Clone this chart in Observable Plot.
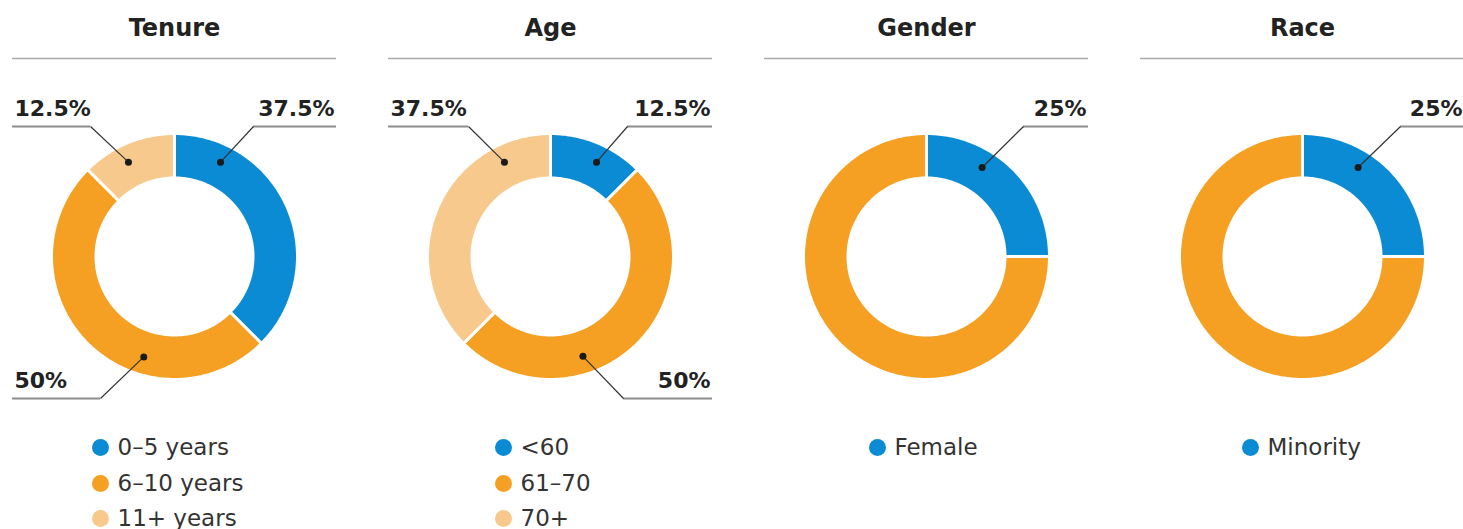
<!DOCTYPE html>
<html><head><meta charset="utf-8">
<script src="https://cdn.jsdelivr.net/npm/d3@7"></script>
<script src="https://cdn.jsdelivr.net/npm/@observablehq/plot@0.6"></script>
<style>body{margin:0;background:#fff}</style>
</head><body><div id="chart"></div>
<script>
// ---- data ----
const panelTitles = ["Tenure", "Age", "Gender", "Race"];
const tenureCategories = ["0–5 years", "6–10 years", "11+ years"];
const tenureValues = [37.5, 50, 12.5];
const ageCategories = ["<60", "61–70", "70+"];
const ageValues = [12.5, 50, 37.5];
const genderCategories = ["Female", "Male"];
const genderValues = [25, 75];
const raceCategories = ["Minority", "Non-minority"];
const raceValues = [25, 75];
const legendCounts = [3, 3, 1, 1]; // categories shown in each legend

// ---- styles / layout ----
const palette = ["#0b8bd3", "#f5a023", "#f8c98d"];
const W = 1463, H = 529;
const panelStart = [12, 388, 764, 1140];
const panelWidth = 324;
const cy = 256, rOuter = 123, rInner = 78.5;
const legendDotX = [88, 115, 113, 110];
const legendRows = [447, 483, 518];
// label placement: [panel][slice] -> {side, row, angle(deg), len}
const labelLayout = [
  [{side: "right", row: "top", angle: 26, len: 83}, {side: "left", row: "bottom", angle: 197, len: 88}, {side: "left", row: "top", angle: -26, len: 78}],
  [{side: "right", row: "top", angle: 26, len: 85}, {side: "right", row: "bottom", angle: 162, len: 89}, {side: "left", row: "top", angle: -26, len: 80}],
  [{side: "right", row: "top", angle: 32, len: 65}, null],
  [{side: "right", row: "top", angle: 32, len: 64}, null]
];

const panels = [
  {cats: tenureCategories, vals: tenureValues},
  {cats: ageCategories, vals: ageValues},
  {cats: genderCategories, vals: genderValues},
  {cats: raceCategories, vals: raceValues}
];

const pie = d3.pie().sort(null).startAngle(0).endAngle(2 * Math.PI);
const marks = [];
const titles = [], titleRules = [], underlines = [], leaders = [], dots = [], pctLabels = [], legendDots = [], legendTexts = [];

panels.forEach((p, pi) => {
  const x0 = panelStart[pi];
  const cx = x0 + panelWidth / 2;
  titles.push({x: cx, y: 28, text: panelTitles[pi]});
  titleRules.push({x1: x0, x2: x0 + panelWidth, y: 58});
  const arcs = pie(p.vals);
  arcs.forEach((a, si) => {
    const pts = [];
    const n = Math.max(2, Math.ceil((a.endAngle - a.startAngle) / (Math.PI / 180)));
    for (let k = 0; k <= n; k++) {
      const t = a.startAngle + (a.endAngle - a.startAngle) * k / n;
      pts.push({x: cx + rOuter * Math.sin(t), y: cy - rOuter * Math.cos(t)});
    }
    for (let k = n; k >= 0; k--) {
      const t = a.startAngle + (a.endAngle - a.startAngle) * k / n;
      pts.push({x: cx + rInner * Math.sin(t), y: cy - rInner * Math.cos(t)});
    }
    marks.push(Plot.line(pts, {x: "x", y: "y", fill: palette[si], stroke: "white", strokeWidth: 3, curve: "linear-closed"}));

    const L = labelLayout[pi][si];
    if (L) {
      const th = L.angle * Math.PI / 180, rd = 105;
      const dx = cx + rd * Math.sin(th), dy = cy - rd * Math.cos(th);
      const uy = L.row === "top" ? 126 : 398;
      const ux1 = L.side === "right" ? x0 + panelWidth - L.len : x0;
      const ux2 = L.side === "right" ? x0 + panelWidth : x0 + L.len;
      const inner = L.side === "right" ? ux1 : ux2;
      underlines.push({x1: ux1, x2: ux2, y: uy});
      leaders.push({x1: inner, y1: uy, x2: dx, y2: dy});
      dots.push({x: dx, y: dy});
      pctLabels.push({
        x: L.side === "right" ? x0 + panelWidth - 2 : x0 + 2,
        y: L.row === "top" ? 108 : 380,
        anchor: L.side === "right" ? "end" : "start",
        text: p.vals[si] + "%"
      });
    }
  });
  for (let ci = 0; ci < legendCounts[pi]; ci++) {
    legendDots.push({x: x0 + legendDotX[pi], y: legendRows[ci], c: palette[ci]});
    legendTexts.push({x: x0 + legendDotX[pi] + 17, y: legendRows[ci], text: p.cats[ci]});
  }
});

const chart = Plot.plot({
  width: W, height: H,
  margin: 0,
  x: {domain: [0, W], range: [0, W], axis: null},
  y: {domain: [0, H], range: [0, H], axis: null},
  color: {type: "identity"},
  style: {fontFamily: "DejaVu Sans", background: "white", overflow: "visible"},
  marks: [
    Plot.ruleY(titleRules, {x1: "x1", x2: "x2", y: "y", stroke: "#a8a8a8", strokeWidth: 1.5}),
    Plot.text(titles, {x: "x", y: "y", text: "text", fontSize: 24, fontWeight: "bold", fill: "#222"}),
    ...marks,
    Plot.ruleY(underlines, {x1: "x1", x2: "x2", y: "y", stroke: "#8c8c8c", strokeWidth: 2}),
    Plot.link(leaders, {x1: "x1", y1: "y1", x2: "x2", y2: "y2", stroke: "#333", strokeWidth: 1.2}),
    Plot.dot(dots, {x: "x", y: "y", r: 3.5, fill: "#1a1a1a"}),
    Plot.text(pctLabels.filter(d => d.anchor === "end"), {x: "x", y: "y", text: "text", textAnchor: "end", fontSize: 22, fontWeight: "bold", fill: "#222"}),
    Plot.text(pctLabels.filter(d => d.anchor === "start"), {x: "x", y: "y", text: "text", textAnchor: "start", fontSize: 22, fontWeight: "bold", fill: "#222"}),
    Plot.dot(legendDots, {x: "x", y: "y", r: 8.5, fill: "c"}),
    Plot.text(legendTexts, {x: "x", y: "y", text: "text", textAnchor: "start", fontSize: 23, fill: "#333"})
  ]
});
document.getElementById("chart").appendChild(chart);
</script></body></html>
